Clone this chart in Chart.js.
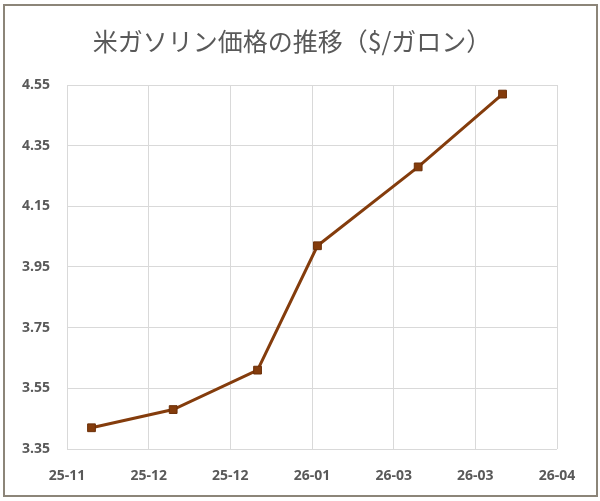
<!DOCTYPE html>
<html>
<head>
<meta charset="utf-8">
<script src="https://cdn.jsdelivr.net/npm/chart.js@4/dist/chart.umd.min.js"></script>
<style>
  html, body { margin: 0; padding: 0; background: #fff; }
  #wrap { width: 600px; height: 501px; }
</style>
</head>
<body>
<div id="wrap"><canvas id="gasChart" width="600" height="501"></canvas></div>
<script>
// data
const title = '米ガソリン価格の推移（$/ガロン）';
const dates = ['2025-11-10', '2025-12-10', '2026-01-10', '2026-02-01', '2026-03-10', '2026-04-10'];
const prices = [3.42, 3.48, 3.61, 4.02, 4.28, 4.52];

// axis ticks (Excel date axis, 30-day major unit from 2025-11-01)
const axisStart = '2025-11-01';
const xTickLabels = ['25-11', '25-12', '25-12', '26-01', '26-03', '26-03', '26-04'];
const xTickStepDays = 30;
const yTicks = [3.35, 3.55, 3.75, 3.95, 4.15, 4.35, 4.55];

const dayOf = s => {
  const [y, m, d] = s.split('-').map(Number);
  return Date.UTC(y, m - 1, d) / 86400000;
};
const start = dayOf(axisStart);
const points = dates.map((d, i) => ({ x: dayOf(d) - start, y: prices[i] }));

const tickFont = { family: "'Open Sans', 'Liberation Sans', sans-serif", size: 14, weight: 'bold' };
const grey = '#595959';
const brown = '#843c0c';

// white background + outer frame
const framePlugin = {
  id: 'frame',
  beforeDraw(chart) {
    const c = chart.ctx;
    c.save();
    c.fillStyle = '#fff';
    c.fillRect(0, 0, chart.width, chart.height);
    c.strokeStyle = '#8c8579';
    c.lineWidth = 2;
    c.strokeRect(4, 5, 593, 491);
    c.restore();
  }
};

new Chart(document.getElementById('gasChart').getContext('2d'), {
  type: 'line',
  data: {
    datasets: [{
      label: title,
      data: points,
      borderColor: brown,
      backgroundColor: brown,
      borderWidth: 3,
      pointStyle: 'rect',
      pointRadius: 5.5,
      pointBackgroundColor: brown,
      pointBorderColor: '#6b2f08',
      pointBorderWidth: 1,
      tension: 0
    }]
  },
  options: {
    responsive: false,
    animation: false,
    layout: { padding: { left: 0, right: 16, top: 0, bottom: 0 } },
    plugins: {
      legend: { display: false },
      tooltip: { enabled: false },
      title: {
        display: true,
        text: title,
        color: grey,
        font: { family: "'Noto Sans CJK JP', sans-serif", size: 25, weight: 'normal', lineHeight: 1.2 },
        padding: { top: 26, bottom: 29 }
      }
    },
    scales: {
      x: {
        type: 'linear',
        min: 0,
        max: xTickStepDays * (xTickLabels.length - 1),
        afterBuildTicks: s => { s.ticks = xTickLabels.map((_, i) => ({ value: i * xTickStepDays })); },
        afterFit: s => { s.height = 52; },
        ticks: {
          color: grey,
          font: tickFont,
          padding: 19,
          maxRotation: 0,
          autoSkip: false,
          callback: (v) => xTickLabels[Math.round(v / xTickStepDays)]
        },
        grid: { color: '#d9d9d9', lineWidth: 1, drawTicks: false },
        border: { display: false }
      },
      y: {
        min: yTicks[0],
        max: yTicks[yTicks.length - 1],
        afterBuildTicks: s => { s.ticks = yTicks.map(v => ({ value: v })); },
        afterFit: s => { s.width = 67; },
        ticks: {
          color: grey,
          font: tickFont,
          padding: 17,
          callback: v => v.toFixed(2)
        },
        grid: { color: '#d9d9d9', lineWidth: 1, drawTicks: false },
        border: { display: false }
      },
      // empty right-hand spacer so the plot ends where the original does
      yRight: {
        position: 'right',
        display: true,
        afterFit: s => { s.width = 27; },
        ticks: { display: false },
        grid: { display: false, drawTicks: false },
        border: { display: false }
      }
    }
  },
  plugins: [framePlugin]
});
</script>
</body>
</html>
